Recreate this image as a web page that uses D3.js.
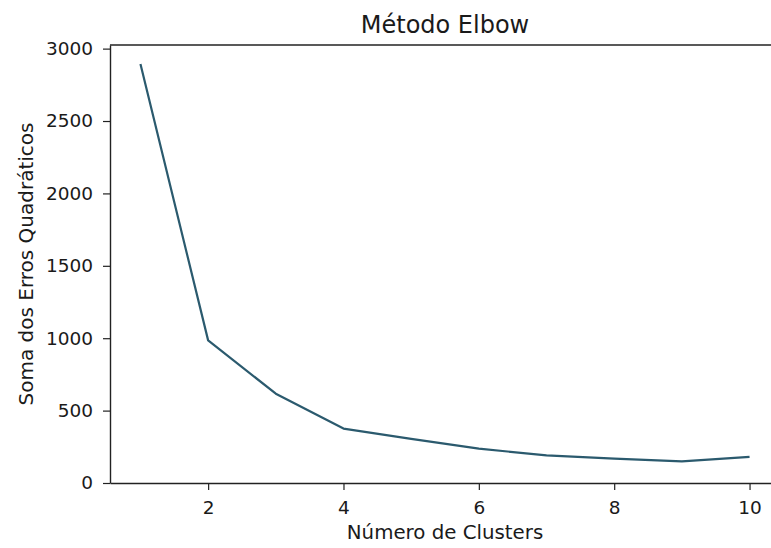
<!DOCTYPE html>
<html>
<head>
<meta charset="utf-8">
<script src="https://cdn.jsdelivr.net/npm/d3@7"></script>
<style>
  body { margin: 0; background: #fff; overflow: hidden; }
  text { font-family: "DejaVu Sans", sans-serif; fill: #1a1a1a; }
</style>
</head>
<body>
<div id="main"></div>
<script>
// data
var clusters = [1, 2, 3, 4, 5, 6, 7, 8, 9, 10];
var sse = [2893, 985, 617, 376, 305, 237, 191, 168, 150, 180];
var yTicks = [0, 500, 1000, 1500, 2000, 2500, 3000];
var xTicks = [2, 4, 6, 8, 10];

var width = 771, height = 548;
var mLeft = 110, mRight = 780, mTop = 45, mBottom = 483;

var svg = d3.select("#main").append("svg")
  .attr("width", width).attr("height", height);

var x = d3.scaleLinear().domain([0.55, 10.45]).range([mLeft, mRight]);
var y = d3.scaleLinear().domain([0, 3025]).range([mBottom, mTop]);

// data line
var line = d3.line()
  .x(function (d, i) { return x(clusters[i]); })
  .y(function (d) { return y(d); });

svg.append("path")
  .datum(sse)
  .attr("d", line)
  .attr("fill", "none")
  .attr("stroke", "#2b5a6e")
  .attr("stroke-width", 2.2)
  .attr("stroke-linejoin", "round");

// axes
var yAxis = svg.append("g")
  .attr("transform", "translate(" + mLeft + ",0)")
  .call(d3.axisLeft(y).tickValues(yTicks).tickFormat(d3.format("d"))
    .tickSize(7).tickPadding(10).tickSizeOuter(0));
var xAxis = svg.append("g")
  .attr("transform", "translate(0," + mBottom + ")")
  .call(d3.axisBottom(x).tickValues(xTicks).tickFormat(d3.format("d"))
    .tickSize(7).tickPadding(11).tickSizeOuter(0));

[xAxis, yAxis].forEach(function (g) {
  g.selectAll("text").style("font-size", "18.5px").attr("fill", "#1a1a1a");
  g.selectAll(".tick line").attr("stroke", "#222").attr("stroke-width", 1.2);
  g.select(".domain").attr("stroke", "#222").attr("stroke-width", 1.4);
});

// top spine (right spine falls outside the picture)
svg.append("line")
  .attr("x1", mLeft).attr("x2", mRight).attr("y1", mTop).attr("y2", mTop)
  .attr("stroke", "#222").attr("stroke-width", 1.4);

// labels
svg.append("text")
  .attr("x", (mLeft + mRight) / 2).attr("y", 33)
  .attr("text-anchor", "middle")
  .style("font-size", "24px")
  .text("Método Elbow");

svg.append("text")
  .attr("x", (mLeft + mRight) / 2).attr("y", 539)
  .attr("text-anchor", "middle")
  .style("font-size", "19.8px")
  .text("Número de Clusters");

svg.append("text")
  .attr("transform", "translate(33," + (mTop + mBottom) / 2 + ") rotate(-90)")
  .attr("text-anchor", "middle")
  .style("font-size", "20px")
  .text("Soma dos Erros Quadráticos");
</script>
</body>
</html>
